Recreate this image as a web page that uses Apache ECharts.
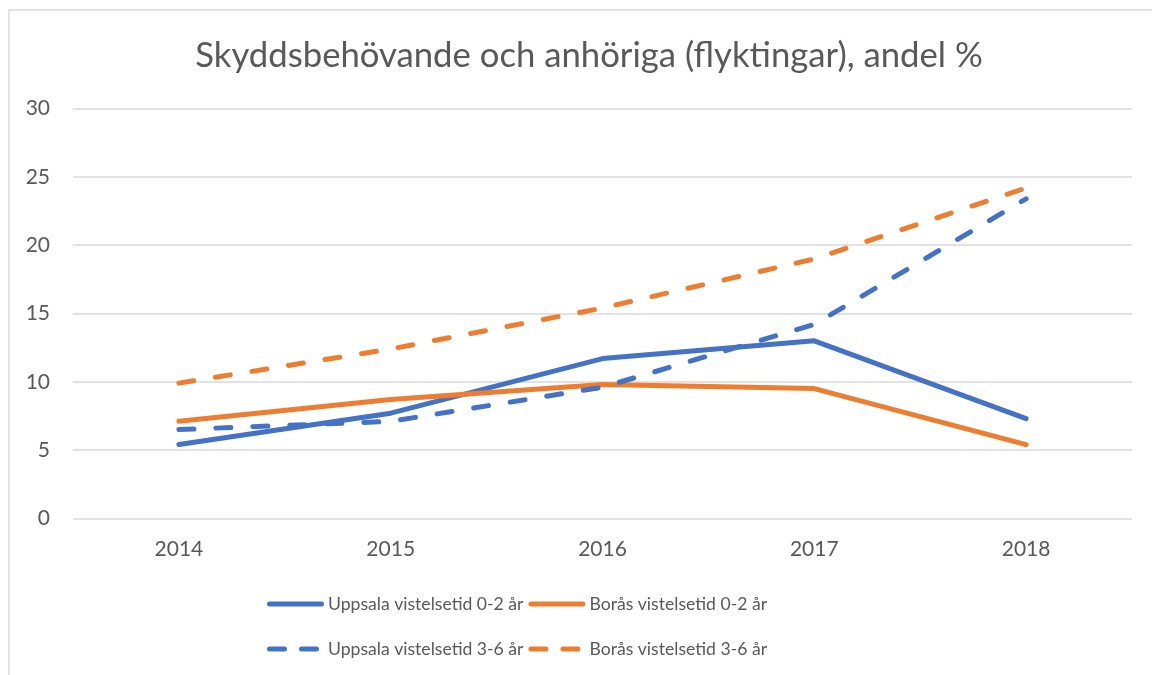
<!DOCTYPE html>
<html>
<head>
<meta charset="utf-8">
<script src="https://cdn.jsdelivr.net/npm/echarts@6/dist/echarts.min.js"></script>
<style>html,body{margin:0;padding:0;background:#fff;}#c{width:1152px;height:675px;}</style>
</head>
<body>
<div id="c"></div>
<script>
const years = ['2014', '2015', '2016', '2017', '2018'];
const uppsala02 = [5.4, 7.7, 11.7, 13.0, 7.3];
const boras02 = [7.1, 8.7, 9.8, 9.5, 5.4];
const uppsala36 = [6.5, 7.1, 9.6, 14.2, 23.4];
const boras36 = [9.9, 12.4, 15.4, 19.0, 24.2];
const yTicks = [0, 5, 10, 15, 20, 25, 30];

const BLUE = '#4472C4', ORANGE = '#ED7D31', TXT = '#595959', GRID = '#D9D9D9';
const FONT = 'Lato';
const DASH = [15, 22];
const ICON_SOLID = 'path://M2.5,0H54.5A2.5,2.5 0 0 1 54.5,5H2.5A2.5,2.5 0 0 1 2.5,0Z';
const ICON_DASH = 'path://M2.5,0H17.5A2.5,2.5 0 0 1 17.5,5H2.5A2.5,2.5 0 0 1 2.5,0Z M34.5,0H49.5A2.5,2.5 0 0 1 49.5,5H34.5A2.5,2.5 0 0 1 34.5,0Z M57,2.5 L57,2.5';

function mk(name, data, color, dashed) {
  return {
    name: name, type: 'line', data: data, symbol: 'none', smooth: false,
    lineStyle: { color: color, width: 5, type: dashed ? DASH : 'solid', cap: 'round', join: 'round' },
    itemStyle: { color: color },
    emphasis: { disabled: true }
  };
}

const chart = echarts.init(document.getElementById('c'), null, { renderer: 'canvas' });
const legendCommon = {
  left: 262, orient: 'horizontal', itemWidth: 57, itemHeight: 5, itemGap: 5,
  textStyle: { color: TXT, fontSize: 17.6, fontFamily: FONT, padding: [0, 0, 0, -1] },
  selectedMode: false
};
chart.setOption({
  animation: false,
  backgroundColor: '#fff',
  title: {
    text: 'Skyddsbehövande och anhöriga (flyktingar), andel %',
    left: 584, textAlign: 'center', top: 33,
    textStyle: { color: TXT, fontSize: 34.7, fontWeight: 'normal', fontFamily: FONT }
  },
  graphic: [{
    type: 'rect', silent: true, z: -1,
    shape: { x: 9, y: 10, width: 1300, height: 800 },
    style: { fill: 'none', stroke: GRID, lineWidth: 1.5 }
  }],
  legend: [
    Object.assign({}, legendCommon, { top: 590, data: [
      { name: 'Uppsala vistelsetid 0-2 år', icon: ICON_SOLID },
      { name: 'Borås vistelsetid 0-2 år', icon: ICON_SOLID }
    ] }),
    Object.assign({}, legendCommon, { top: 635, data: [
      { name: 'Uppsala vistelsetid 3-6 år', icon: ICON_DASH },
      { name: 'Borås vistelsetid 3-6 år', icon: ICON_DASH }
    ] })
  ],
  grid: { left: 73, right: 20, top: 108.7, bottom: 156.7, containLabel: false },
  xAxis: {
    type: 'category', data: years, boundaryGap: true,
    axisLine: { show: false }, axisTick: { show: false },
    axisLabel: { color: TXT, fontSize: 21, fontFamily: FONT, margin: 20 }
  },
  yAxis: {
    type: 'value', min: yTicks[0], max: yTicks[yTicks.length - 1], interval: 5,
    axisLine: { show: false }, axisTick: { show: false },
    axisLabel: { color: TXT, fontSize: 21, fontFamily: FONT, margin: 23 },
    splitLine: { lineStyle: { color: GRID, width: 1.5 } }
  },
  series: [
    mk('Uppsala vistelsetid 0-2 år', uppsala02, BLUE, false),
    mk('Borås vistelsetid 0-2 år', boras02, ORANGE, false),
    mk('Uppsala vistelsetid 3-6 år', uppsala36, BLUE, true),
    mk('Borås vistelsetid 3-6 år', boras36, ORANGE, true)
  ]
});
</script>
</body>
</html>
